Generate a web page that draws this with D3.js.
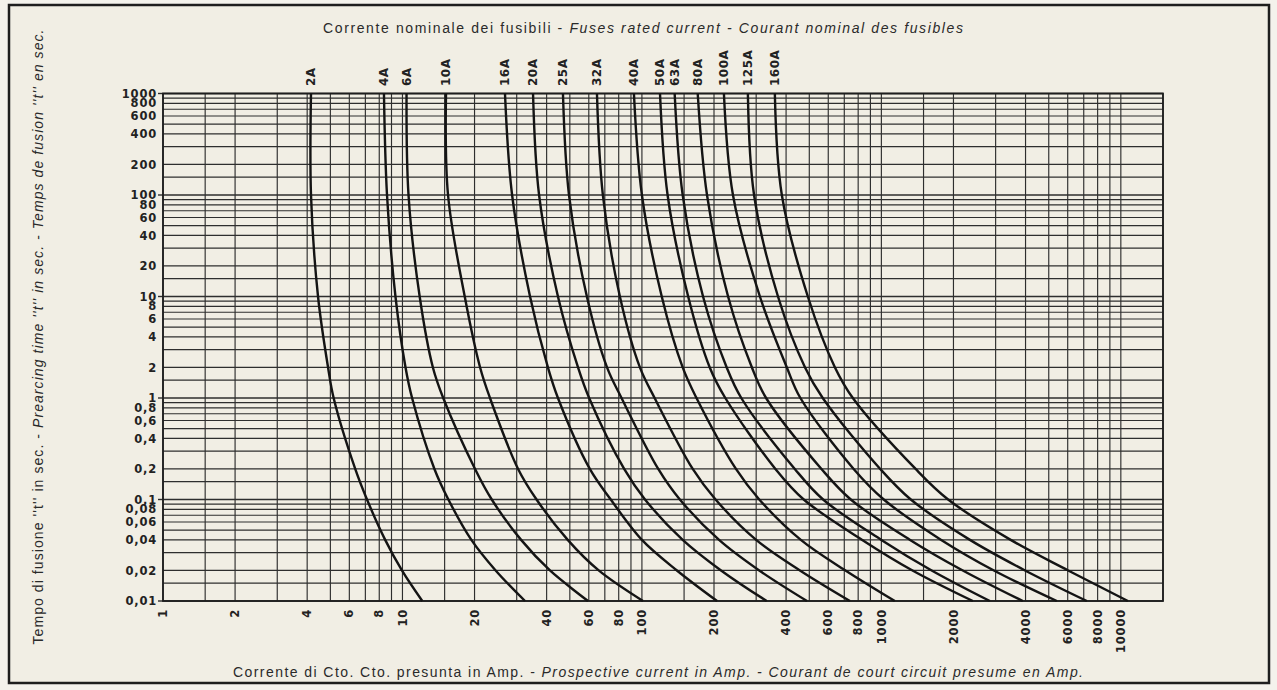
<!DOCTYPE html>
<html lang="it">
<head>
  <meta charset="UTF-8" />
  <title>Fuse time-current curves</title>
  <script src="https://d3js.org/d3.v7.min.js"></script>
  <style>
    html, body { margin: 0; padding: 0; background: #f4f2ec; }
    svg { display: block; font-family: "Liberation Sans", Arial, sans-serif; }
    .grid line { stroke: #2e2e2e; stroke-width: 1.15px; }
    .curve { fill: none; stroke: #141414; stroke-width: 2.4px; }
    .tick-lbl { font-family: "DejaVu Sans", sans-serif; font-size: 11.5px; font-weight: bold; fill: #222; letter-spacing: 0.8px; }
    .fuse-lbl { font-family: "DejaVu Sans", sans-serif; font-size: 12px; font-weight: bold; fill: #222; letter-spacing: 0.5px; }
    .title { font-size: 14px; fill: #2a2a2a; }
  </style>
</head>
<body>
<div id="chart"></div>
<script>
// fuse ratings (labels along the top)
const fuseLabels = ["2A", "4A", "6A", "10A", "16A", "20A", "25A", "32A", "40A", "50A", "63A", "80A", "100A", "125A", "160A"];

// prearcing time levels (s) at which each curve was read
const timeLevels = [1000, 100, 10, 2, 1, 0.2, 0.1, 0.04, 0.02, 0.01];

// prospective current (A) at those times
const amp2A   = [4.15, 4.15, 4.44, 4.89, 5.16, 6.35, 7.11, 8.47, 9.95, 12.1];
const amp4A   = [8.37, 8.62, 9.35, 10.3, 10.97, 13.6, 15.55, 19.4, 24.5, 32.5];
const amp6A   = [10.4, 10.6, 11.8, 13.4, 14.8, 20.1, 23.6, 31.3, 41.3, 59.6];
const amp10A  = [15.2, 15.5, 18.2, 21.1, 23.2, 30.4, 36.3, 49.0, 66.0, 101];
const amp16A  = [26.8, 28.7, 34.1, 40.5, 44.6, 60.6, 74.1, 100, 140, 206];
const amp20A  = [35.1, 37.2, 44.6, 54.1, 60.2, 84.3, 103, 148, 214, 332];
const amp25A  = [46.8, 49.6, 58.9, 71.5, 82.2, 117, 144, 210, 309, 489];
const amp32A  = [64.9, 68.7, 80.9, 98.1, 113, 163, 203, 300, 457, 739];
const amp40A  = [92.6, 100, 121, 148, 169, 247, 309, 461, 708, 1138];
const amp50A  = [119, 128, 156, 192, 223, 361, 474, 832, 1349, 2410];
const amp63A  = [137, 148, 180, 226, 260, 435, 571, 1000, 1622, 2838];
const amp80A  = [171, 187, 229, 288, 330, 562, 745, 1318, 2188, 3896];
const amp100A = [220, 240, 311, 403, 459, 766, 1023, 1778, 2951, 5404];
const amp125A = [277, 294, 370, 480, 569, 989, 1327, 2344, 3981, 7211];
const amp160A = [359, 384, 493, 640, 760, 1390, 1900, 3467, 6026, 10700];

const fuseAmps = [amp2A, amp4A, amp6A, amp10A, amp16A, amp20A, amp25A, amp32A,
                  amp40A, amp50A, amp63A, amp80A, amp100A, amp125A, amp160A];

// axis tick labels
const xTickValues = [1, 2, 4, 6, 8, 10, 20, 40, 60, 80, 100, 200, 400, 600, 800,
                     1000, 2000, 4000, 6000, 8000, 10000];
const yTickValues = [1000, 800, 600, 400, 200, 100, 80, 60, 40, 20, 10, 8, 6, 4, 2,
                     1, 0.8, 0.6, 0.4, 0.2, 0.1, 0.08, 0.06, 0.04, 0.02, 0.01];
// grid lines in every decade
const gridSteps = [1, 1.5, 2, 3, 4, 5, 6, 7, 8, 9];

const W = 1277, H = 690;
const svg = d3.select("#chart").append("svg")
  .attr("width", W).attr("height", H);

svg.append("rect").attr("width", W).attr("height", H).attr("fill", "#f4f2ec");
// outer frame
svg.append("rect")
  .attr("x", 9).attr("y", 5).attr("width", 1260).attr("height", 678)
  .attr("fill", "#f1eee4").attr("stroke", "#1e1e1e").attr("stroke-width", 2.5);

const x = d3.scaleLog().domain([1, 15000]).range([163, 1163]);
const y = d3.scaleLog().domain([0.01, 1000]).range([601, 93.5]);

function decadeGrid(lo, hi) {
  const out = [];
  for (let d = lo; d < hi; d *= 10) gridSteps.forEach(s => out.push(+(d * s).toPrecision(6)));
  out.push(hi);
  return out;
}
const xGrid = decadeGrid(1, 10000).concat([15000]);
const yGrid = decadeGrid(0.01, 1000);
const isDecade = d => Math.abs(Math.log10(d) - Math.round(Math.log10(d))) < 1e-6;

const grid = svg.append("g").attr("class", "grid");
grid.selectAll(".v").data(xGrid).enter().append("line")
  .attr("x1", d => x(d)).attr("x2", d => x(d))
  .attr("y1", y(1000)).attr("y2", y(0.01));
grid.selectAll(".h").data(yGrid).enter().append("line")
  .attr("x1", x(1)).attr("x2", x(15000))
  .attr("y1", d => y(d)).attr("y2", d => y(d))
  .style("stroke-width", d => isDecade(d) ? 1.6 : 1.15);

// small ticks sticking out at decades
svg.append("g").selectAll("line").data([1000, 100, 10, 1, 0.1, 0.01]).enter().append("line")
  .attr("x1", x(1) - 5).attr("x2", x(1)).attr("y1", d => y(d)).attr("y2", d => y(d))
  .attr("stroke", "#2e2e2e").attr("stroke-width", 1.4);

svg.append("rect")
  .attr("x", x(1)).attr("y", y(1000))
  .attr("width", x(15000) - x(1)).attr("height", y(0.01) - y(1000))
  .attr("fill", "none").attr("stroke", "#1e1e1e").attr("stroke-width", 1.8);

// y tick labels
const fmt = v => String(v).replace(".", ",");
svg.append("g").selectAll("text").data(yTickValues).enter().append("text")
  .attr("class", "tick-lbl")
  .attr("x", 157).attr("y", d => y(d))
  .attr("dy", "0.36em").attr("text-anchor", "end")
  .text(fmt);

// x tick labels, rotated
svg.append("g").selectAll("text").data(xTickValues).enter().append("text")
  .attr("class", "tick-lbl")
  .attr("transform", d => `translate(${x(d)},609) rotate(-90)`)
  .attr("dy", "0.36em").attr("text-anchor", "end")
  .text(d => d);

// curves
const line = d3.line()
  .x(d => x(d[0])).y(d => y(d[1]))
  .curve(d3.curveCatmullRom.alpha(0.5));

svg.append("g").selectAll("path").data(fuseAmps).enter().append("path")
  .attr("class", "curve")
  .attr("d", amps => line(amps.map((a, i) => [a, timeLevels[i]])));

// fuse labels above the curves
svg.append("g").selectAll("text").data(fuseLabels).enter().append("text")
  .attr("class", "fuse-lbl")
  .attr("transform", (d, i) => `translate(${x(fuseAmps[i][0])},86) rotate(-90)`)
  .attr("dy", "0.36em").attr("text-anchor", "start")
  .text(d => d);

// titles
const topTitle = svg.append("text").attr("class", "title")
  .attr("x", 643).attr("y", 33).attr("text-anchor", "middle")
  .attr("textLength", 640).attr("lengthAdjust", "spacing");
topTitle.append("tspan").text("Corrente nominale dei fusibili - ");
topTitle.append("tspan").attr("font-style", "italic").text("Fuses rated current - Courant nominal des fusibles");

const bottomTitle = svg.append("text").attr("class", "title")
  .attr("x", 658).attr("y", 677).attr("text-anchor", "middle")
  .attr("textLength", 850).attr("lengthAdjust", "spacing");
bottomTitle.append("tspan").text("Corrente di Cto. Cto. presunta in Amp. - ");
bottomTitle.append("tspan").attr("font-style", "italic")
  .text("Prospective current in Amp. - Courant de court circuit presume en Amp.");

const leftTitle = svg.append("text").attr("class", "title")
  .attr("transform", "translate(43,337) rotate(-90)").attr("text-anchor", "middle")
  .attr("textLength", 615).attr("lengthAdjust", "spacing");
leftTitle.append("tspan").text("Tempo di fusione ''t'' in sec. - ");
leftTitle.append("tspan").attr("font-style", "italic")
  .text("Prearcing time ''t'' in sec. - Temps de fusion ''t'' en sec.");
</script>
</body>
</html>
